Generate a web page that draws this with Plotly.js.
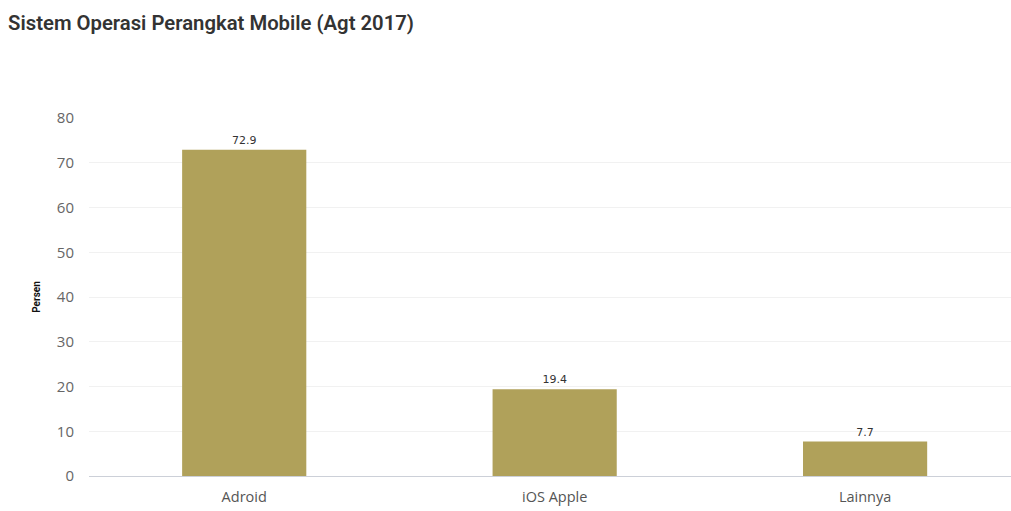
<!DOCTYPE html>
<html>
<head>
<meta charset="utf-8">
<script src="https://cdn.plot.ly/plotly-3.0.1.min.js"></script>
<style>html,body{margin:0;padding:0;background:#fff;}#chart{width:1011px;height:511px;}</style>
</head>
<body>
<div id="chart"></div>
<script>
const categories = ["Adroid", "iOS Apple", "Lainnya"];
const values = [72.9, 19.4, 7.7];
const valueLabels = ["72.9", "19.4", "7.7"];
const yTicks = [0, 10, 20, 30, 40, 50, 60, 70, 80];

const trace = {
  type: 'bar',
  x: categories,
  y: values,
  text: valueLabels,
  textposition: 'outside',
  cliponaxis: false,
  textfont: {family: 'DejaVu Sans, sans-serif', size: 11, color: '#333'},
  marker: {color: '#b0a15a'},
  width: 0.4,
  hoverinfo: 'x+y'
};

const layout = {
  width: 1011,
  height: 511,
  paper_bgcolor: '#fff',
  plot_bgcolor: '#fff',
  margin: {l: 89, r: 0, t: 118, b: 35},
  title: {
    text: 'Sistem Operasi Perangkat Mobile (Agt 2017)',
    x: 0.008, xanchor: 'left', y: 0.955, yanchor: 'middle',
    font: {family: 'Roboto, sans-serif', size: 20.3, color: '#333', weight: 600}
  },
  xaxis: {
    type: 'category',
    range: [-0.5, 2.47],
    showgrid: false,
    zeroline: false,
    showline: false,
    ticks: '',
    ticklabelstandoff: 10,
    tickfont: {family: 'Open Sans, sans-serif', size: 14.5, color: '#555'},
    fixedrange: true
  },
  yaxis: {
    range: [0, 80],
    tickvals: yTicks,
    ticktext: yTicks.map(String),
    showgrid: true,
    gridcolor: '#f1f1f1',
    zeroline: true,
    zerolinecolor: '#ccd0d8',
    zerolinewidth: 1,
    showline: false,
    ticks: '',
    ticklabelstandoff: 14,
    tickfont: {family: 'Open Sans, sans-serif', size: 15, color: '#666'},
    title: {
      text: '<b>Persen</b>',
      font: {family: 'Roboto, sans-serif', size: 10, color: '#111'},
      standoff: 14
    },
    fixedrange: true
  },
  showlegend: false,
  bargap: 0.6
};

Plotly.newPlot('chart', [trace], layout, {displayModeBar: false, staticPlot: true});
</script>
</body>
</html>
